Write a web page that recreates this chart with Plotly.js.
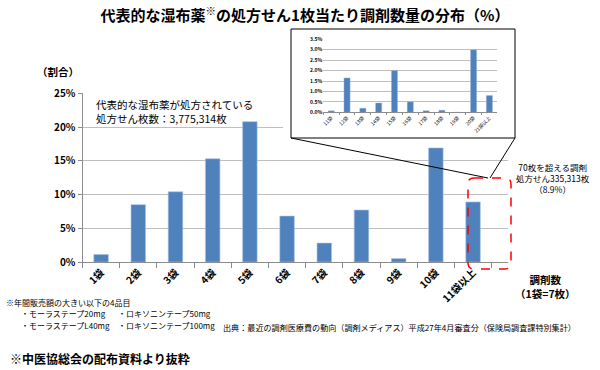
<!DOCTYPE html>
<html>
<head>
<meta charset="utf-8">
<script src="https://cdn.plot.ly/plotly-3.0.1.min.js"></script>
<style>
html,body{margin:0;padding:0;background:#fff;}
#chart{width:600px;height:370px;}
</style>
</head>
<body>
<div id="chart"></div>
<script>
// ---- data ----
const mainCats = ['1袋','2袋','3袋','4袋','5袋','6袋','7袋','8袋','9袋','10袋','11袋以上'];
const mainVals = [1.1, 8.5, 10.4, 15.3, 20.8, 6.8, 2.8, 7.7, 0.5, 16.9, 8.9];
const insetCats = ['11袋','12袋','13袋','14袋','15袋','16袋','17袋','18袋','19袋','20袋','21袋以上'];
const insetVals = [0.07, 1.65, 0.2, 0.45, 2.0, 0.5, 0.08, 0.1, 0, 3.0, 0.8];
const mainTicks = [0, 5, 10, 15, 20, 25];
const mainTickText = ['0%', '5%', '10%', '15%', '20%', '25%'];
const insetTicks = [0, 0.5, 1, 1.5, 2, 2.5, 3, 3.5];
const insetTickText = ['0.0%', '0.5%', '1.0%', '1.5%', '2.0%', '2.5%', '3.0%', '3.5%'];

const W = 600, H = 370;
const FONT = '"Noto Sans CJK JP", "Noto Sans", sans-serif';
const px = x => x / W;
const py = y => 1 - y / H;

// main plot area in pixels
const M = {l: 82.5, r: 508, t: 93.3, b: 262};
// inset plot area in pixels
const I = {l: 323.3, r: 497.3, t: 39.3, b: 112.3};
// inset frame
const B = {l: 291, r: 515, t: 29, b: 138};

// pixel -> main-axis data, for the white cover under the inset frame
const nCat = mainCats.length;
const xData = x => (x - M.l) / (M.r - M.l) * nCat - 0.5;
const yData = y => (M.b - y) / (M.b - M.t) * 25;

const barColor = '#4f81bd';

const traces = [
  {type: 'bar', x: mainCats, y: mainVals, xaxis: 'x', yaxis: 'y',
   marker: {color: barColor, line: {color: '#a9c1e0', width: 0.6}}, hoverinfo: 'none'},
  {type: 'bar', x: insetCats, y: insetVals, xaxis: 'x2', yaxis: 'y2',
   marker: {color: barColor, line: {color: '#a9c1e0', width: 0.4}}, hoverinfo: 'none'}
];

const ann = (text, x, y, size, opts) => Object.assign({
  text: text, x: px(x), y: py(y), xref: 'paper', yref: 'paper',
  showarrow: false, font: {family: FONT, size: size, color: '#000'},
  xanchor: 'left', yanchor: 'middle', align: 'left'
}, opts || {});

const rx = 6;
const rb = {l: 468, r: 511, t: 178, b: 269};
const roundPath =
  `M ${px(rb.l + rx)} ${py(rb.t)} L ${px(rb.r - rx)} ${py(rb.t)} Q ${px(rb.r)} ${py(rb.t)} ${px(rb.r)} ${py(rb.t + rx)} ` +
  `L ${px(rb.r)} ${py(rb.b - rx)} Q ${px(rb.r)} ${py(rb.b)} ${px(rb.r - rx)} ${py(rb.b)} ` +
  `L ${px(rb.l + rx)} ${py(rb.b)} Q ${px(rb.l)} ${py(rb.b)} ${px(rb.l)} ${py(rb.b - rx)} ` +
  `L ${px(rb.l)} ${py(rb.t + rx)} Q ${px(rb.l)} ${py(rb.t)} ${px(rb.l + rx)} ${py(rb.t)} Z`;

const layout = {
  width: W, height: H,
  margin: {l: 0, r: 0, t: 0, b: 0},
  paper_bgcolor: '#ffffff',
  plot_bgcolor: '#ffffff',
  showlegend: false,
  bargap: 0.61,
  font: {family: FONT, color: '#000'},
  title: {
    text: '代表的な湿布薬<sup>※</sup>の処方せん1枚当たり調剤数量の分布（%）',
    x: px(305), xanchor: 'center', xref: 'paper',
    y: py(16), yanchor: 'middle', yref: 'container',
    font: {family: FONT, size: 15, weight: 'bold', color: '#000'}
  },
  xaxis: {
    type: 'category', domain: [px(M.l), px(M.r)], anchor: 'y',
    showgrid: false, showline: true, linecolor: '#8c8c8c', linewidth: 1,
    ticks: 'outside', tickson: 'boundaries', ticklen: 5, tickcolor: '#8c8c8c',
    tickangle: -45, tickfont: {family: FONT, size: 10, weight: 'bold', color: '#000'},
    fixedrange: true
  },
  yaxis: {
    domain: [py(M.b), py(M.t)], anchor: 'x', range: [0, 25],
    tickmode: 'array', tickvals: mainTicks, ticktext: mainTickText,
    showgrid: true, gridcolor: '#bfbfbf', gridwidth: 1, zeroline: false,
    showline: true, linecolor: '#8c8c8c', ticks: 'outside', ticklen: 4, tickcolor: '#8c8c8c',
    tickfont: {family: FONT, size: 10, weight: 'bold', color: '#000'},
    fixedrange: true
  },
  xaxis2: {
    type: 'category', domain: [px(I.l), px(I.r)], anchor: 'y2',
    showgrid: false, showline: true, linecolor: '#8c8c8c', linewidth: 1,
    ticks: 'outside', tickson: 'boundaries', ticklen: 2, tickcolor: '#8c8c8c',
    tickangle: -45, tickfont: {family: FONT, size: 5, color: '#000'},
    fixedrange: true
  },
  yaxis2: {
    domain: [py(I.b), py(I.t)], anchor: 'x2', range: [0, 3.5],
    tickmode: 'array', tickvals: insetTicks, ticktext: insetTickText,
    showgrid: true, gridcolor: '#bfbfbf', gridwidth: 1, zeroline: false,
    showline: false, ticks: '',
    tickfont: {family: FONT, size: 5, weight: 'bold', color: '#000'},
    fixedrange: true
  },
  shapes: [
    // white cover hiding main gridlines behind the inset frame
    {type: 'rect', xref: 'x', yref: 'y', layer: 'between',
     x0: xData(B.l), x1: xData(B.r + 10), y0: yData(B.b), y1: yData(B.t),
     fillcolor: '#ffffff', line: {width: 0}},
    // inset frame
    {type: 'rect', xref: 'paper', yref: 'paper', layer: 'above',
     x0: px(B.l), x1: px(B.r), y0: py(B.b), y1: py(B.t),
     fillcolor: 'rgba(0,0,0,0)', line: {color: '#000', width: 1}},
    // connector lines
    {type: 'line', xref: 'paper', yref: 'paper', layer: 'above',
     x0: px(B.l), y0: py(B.b), x1: px(488), y1: py(178), line: {color: '#000', width: 1}},
    {type: 'line', xref: 'paper', yref: 'paper', layer: 'above',
     x0: px(B.r), y0: py(B.b), x1: px(490), y1: py(178), line: {color: '#000', width: 1}},
    // red dashed rounded box
    {type: 'path', xref: 'paper', yref: 'paper', layer: 'above', path: roundPath,
     fillcolor: 'rgba(0,0,0,0)', line: {color: '#ff0000', width: 1.5, dash: 'dash'}}
  ],
  annotations: [
    ann('（割合）', 58, 71, 10.5, {xanchor: 'center', font: {family: FONT, size: 10.5, weight: 'bold', color: '#000'}}),
    ann('代表的な湿布薬が処方されている<br>処方せん枚数：3,775,314枚', 94, 111, 10.5),
    ann('70枚を超える調剤<br>処方せん335,313枚<br>（8.9%）', 553, 178, 8.5, {xanchor: 'center', align: 'center'}),
    ann('調剤数<br>（1袋=7枚）', 545, 286, 10.5, {xanchor: 'center', align: 'center', font: {family: FONT, size: 10.5, weight: 'bold', color: '#000'}}),
    ann('※年間販売額の大きい以下の4品目', 4, 302, 8),
    ann('・モーラステープ20mg', 19, 313, 8),
    ann('・モーラステープL40mg', 19, 325, 8),
    ann('・ロキソニンテープ50mg', 116, 313, 8),
    ann('・ロキソニンテープ100mg', 116, 325, 8),
    ann('出典：最近の調剤医療費の動向（調剤メディアス）平成27年4月審査分（保険局調査課特別集計）', 221, 327, 8.1),
    ann('※中医協総会の配布資料より抜粋', 8, 358, 12, {font: {family: FONT, size: 12, weight: 'bold', color: '#000'}})
  ]
};

Plotly.newPlot('chart', traces, layout, {displayModeBar: false, staticPlot: true});
</script>
</body>
</html>
